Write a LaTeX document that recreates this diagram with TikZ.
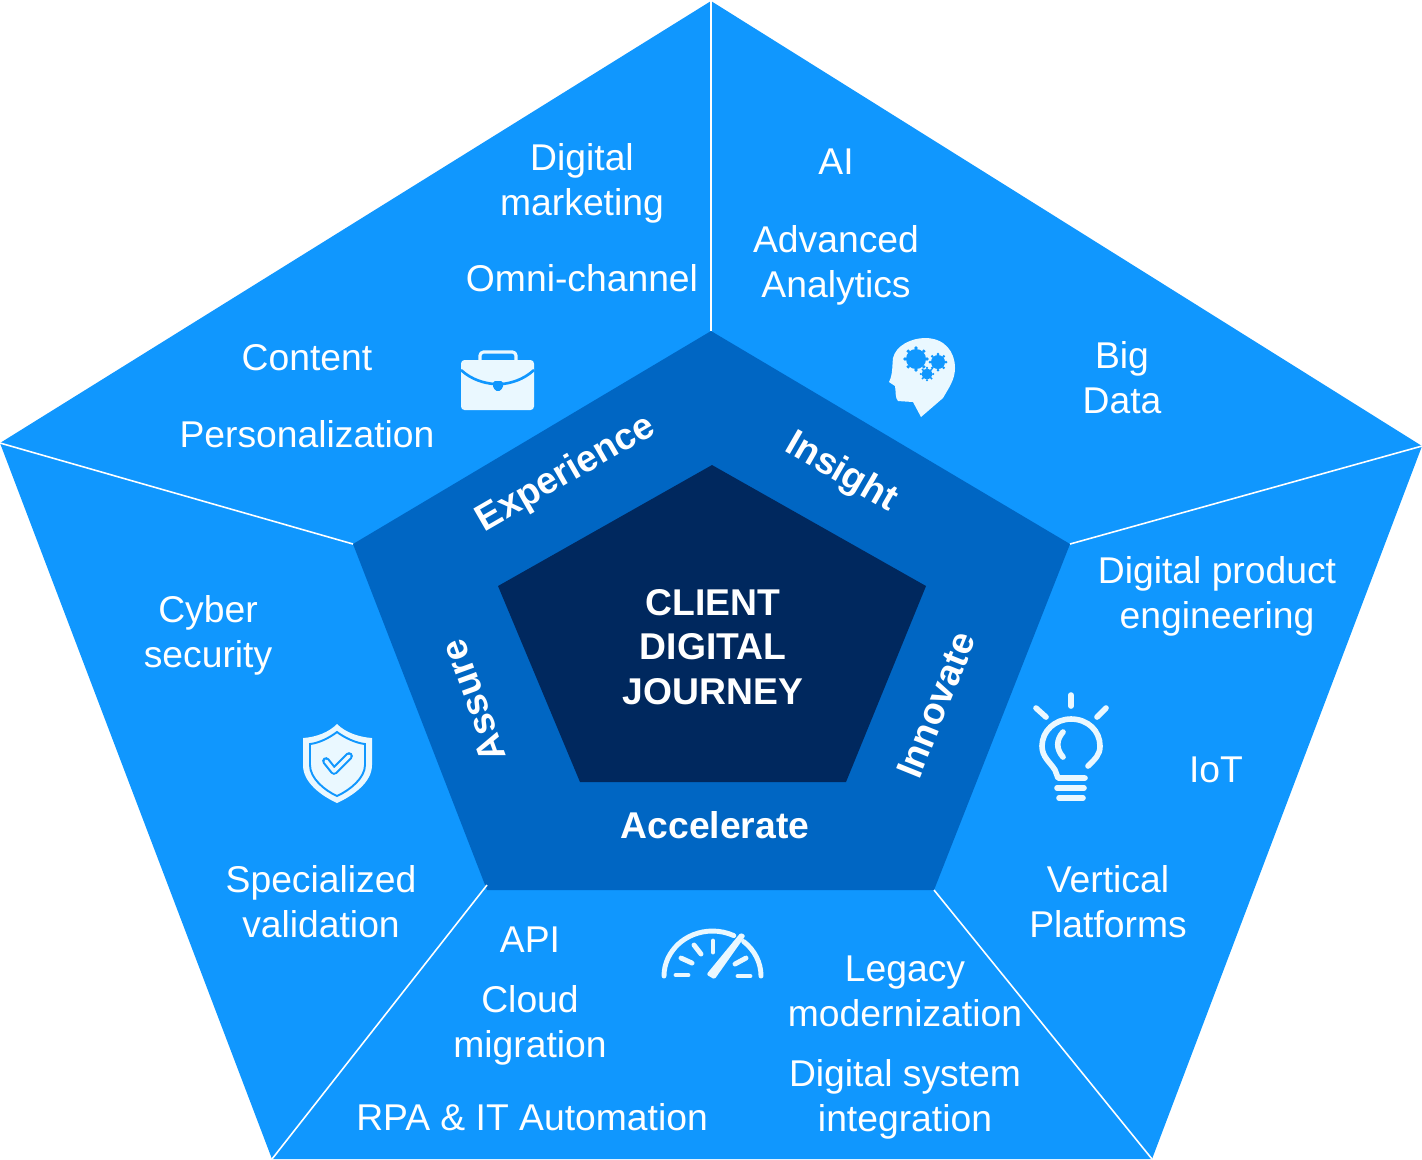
\documentclass[tikz,border=0pt]{standalone}
\usepackage{fontspec}
\setmainfont{Liberation Sans}
\usepackage{xcolor}
\usetikzlibrary{calc}
\definecolor{outerblue}{HTML}{1097FE}
\definecolor{midblue}{HTML}{0066C3}
\definecolor{coreblue}{HTML}{00285E}
\definecolor{iconwhite}{HTML}{EAF8FF}
\tikzset{
    item/.style={text=white, align=center, font=\fontsize{10.6}{12.8}\selectfont, inner sep=0pt},
    head/.style={text=white, align=center, font=\fontsize{10.6}{12.7}\selectfont\bfseries, inner sep=0pt},
    divider/.style={draw=white, line width=0.45pt},
    iconfill/.style={fill=iconwhite, draw=none},
    iconline/.style={draw=iconwhite, line cap=round, line join=round, line width=1.6pt},
    iconcut/.style={fill=outerblue, draw=none}
}
\begin{document}
\begin{tikzpicture}[x=0.01cm, y=-0.01cm]
    \useasboundingbox (0,0) rectangle (1422,1159);
    % pentagons
    \coordinate (o1) at (711,1); \coordinate (o2) at (1422,446); \coordinate (o3) at (1152,1159);
    \coordinate (o4) at (272,1159); \coordinate (o5) at (0,443);
    \coordinate (m1) at (711,331); \coordinate (m2) at (1070,544); \coordinate (m3) at (934,890);
    \coordinate (m4) at (487,885); \coordinate (m5) at (353,544);
    \fill[outerblue] (o1) -- (o2) -- (o3) -- (o4) -- (o5) -- cycle;
    \fill[midblue] (m1) -- (m2) -- (m3) -- (487,890) -- (m5) -- cycle;
    \fill[coreblue] (712,465) -- (926,586) -- (846,782) -- (580,782) -- (498,586) -- cycle;
    \draw[divider] (o1) -- (m1);
    \draw[divider] (o2) -- (m2);
    \draw[divider] (o3) -- (m3);
    \draw[divider] (o4) -- (m4);
    \draw[divider] (o5) -- (m5);
    % centre and ring labels
    \node[head] (core) at (713,647) {CLIENT\\DIGITAL\\JOURNEY};
    \node[head, rotate=30] (experience) at (566,474) {Experience};
    \node[head, rotate=-30] (insight) at (841,473) {Insight};
    \node[head, rotate=68] (innovate) at (936,705) {Innovate};
    \node[head] (accelerate) at (715,825) {Accelerate};
    \node[head, rotate=110] (assure) at (473,701) {Assure};
    % outer labels
    \node[item] (marketing) at (582,183) {Digital\\marketing};
    \node[item] (omni) at (582,278) {Omni-channel};
    \node[item] (content) at (307,358) {Content};
    \node[item] (personal) at (307,434) {Personalization};
    \node[item] (ai) at (836,162) {AI};
    \node[item] (analytics) at (836,265) {Advanced\\Analytics};
    \node[item] (bigdata) at (1122,378) {Big\\Data};
    \node[item] (product) at (1217,596) {Digital product\\engineering};
    \node[item] (iot) at (1216,770) {IoT};
    \node[item] (vertical) at (1108,902) {Vertical\\Platforms};
    \node[item] (legacy) at (905,991) {Legacy\\modernization};
    \node[item] (integration) at (905,1099) {Digital system\\integration};
    \node[item] (api) at (530,940) {API};
    \node[item] (cloud) at (530,1025) {Cloud\\migration};
    \node[item] (rpa) at (532,1117) {RPA \& IT Automation};
    \node[item] (cyber) at (208,635) {Cyber\\security};
    \node[item] (validation) at (321,902) {Specialized\\validation};
    % briefcase
    \draw[iconline, line width=0.9pt, rounded corners=1pt] (480,362) -- (480,352) -- (516,352) -- (516,362);
    \fill[iconfill, rounded corners=1pt] (461,360) rectangle (534,410);
    \draw[draw=outerblue, line width=0.75pt] (461,370) .. controls (472,380) and (484,383) .. (494,384);
    \draw[draw=outerblue, line width=0.75pt] (534,370) .. controls (523,380) and (511,383) .. (502,384);
    \fill[iconcut, rounded corners=0.5pt] (493,381) -- (503,381) -- (503,388) -- (498,392) -- (493,388) -- cycle;
    % head with gears
    \fill[iconfill] (921,417) -- (913,402) -- (898,401) .. controls (895,398) and (896,392) .. (895,386)
        -- (889,382) .. controls (893,374) and (892,366) .. (893,358)
        .. controls (896,345) and (912,338) .. (925,338) .. controls (945,338) and (955,352) .. (955,368)
        .. controls (955,380) and (948,389) .. (943,398) -- cycle;
    \fill[iconcut] (916,359) circle (10);
    \fill[iconcut] (938,362) circle (7);
    \fill[iconcut] (927,374) circle (5.5);
    \foreach \a in {0,45,...,315} {
        \fill[iconcut] (916,359) ++(\a:11) circle (1.8);
        \fill[iconcut] (938,362) ++(\a:8) circle (1.5);
        \fill[iconcut] (927,374) ++(\a:6.2) circle (1.2);
    }
    % bulb
    \draw[iconline] (1085,778) -- (1058,778) -- (1055,770) .. controls (1050,762) and (1042,757) .. (1042,746)
        .. controls (1042,731) and (1055,719) .. (1071,719) .. controls (1088,719) and (1100,731) .. (1100,746)
        .. controls (1100,755) and (1095,759) .. (1088,766);
    \draw[iconline] (1057,788) -- (1084,788);
    \draw[iconline] (1059,798) -- (1083,798);
    \draw[iconline] (1063,732) .. controls (1056,740) and (1056,749) .. (1063,757);
    \draw[iconline] (1071,695) -- (1071,706);
    \draw[iconline] (1036,708) -- (1046,717);
    \draw[iconline] (1106,708) -- (1097,717);
    % gauge
    \draw[iconline, line width=1.4pt] (664,976) arc (180:296:48.5 and 45);
    \draw[iconline, line width=1.4pt] (761,976) arc (0:-50:48.5 and 45);
    \draw[iconline, line width=1.4pt] (676,975) -- (688,975);
    \draw[iconline, line width=1.4pt] (738,976) -- (750,976);
    \draw[iconline, line width=1.4pt] (681,958) -- (692,963);
    \draw[iconline, line width=1.4pt] (735,964) -- (746,958);
    \draw[iconline, line width=1.4pt] (694,945) -- (701,954);
    \draw[iconline, line width=1.4pt] (713,941) -- (713,952);
    \fill[iconfill, draw=iconwhite, line width=1pt, line join=round] (741,935) -- (743,936) -- (714,977) -- (709,974) -- cycle;
    % shield
    \fill[iconfill] (337,724) .. controls (345,732) and (358,737) .. (372,738)
        -- (372,765) .. controls (372,783) and (352,796) .. (337,803)
        .. controls (322,796) and (303,783) .. (303,765) -- (303,738)
        .. controls (317,737) and (329,732) .. (337,724) -- cycle;
    \draw[draw=outerblue, line width=0.55pt] (337,732) .. controls (345,738) and (356,743) .. (365,744)
        -- (365,765) .. controls (365,778) and (350,790) .. (337,796)
        .. controls (324,790) and (310,778) .. (310,765) -- (310,744)
        .. controls (319,743) and (329,738) .. (337,732) -- cycle;
    \draw[draw=outerblue, line width=2.2pt, line join=round, line cap=round] (326,761) -- (334,771) -- (349,756);
    \draw[draw=iconwhite, line width=1pt, line join=round, line cap=round] (326,761) -- (334,771) -- (349,756);
\end{tikzpicture}
\end{document}
